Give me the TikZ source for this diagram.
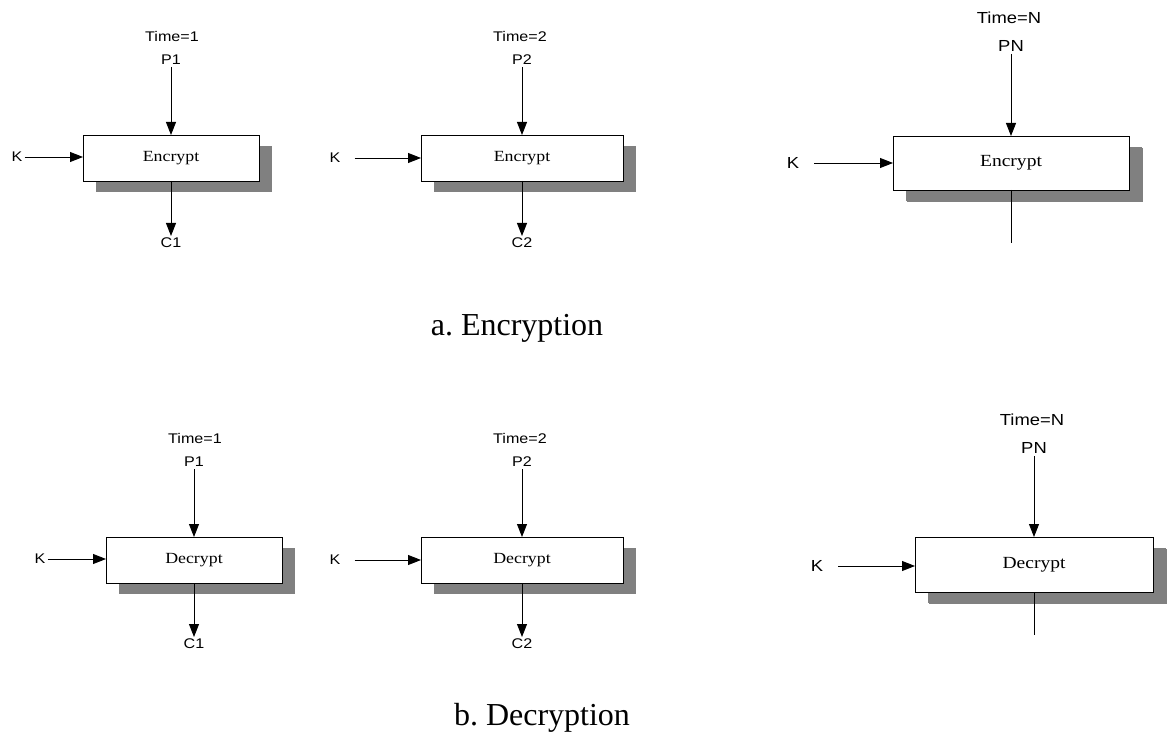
\documentclass[tikz,border=0pt]{standalone}
\usepackage{fontspec}
\setmainfont{Liberation Serif}
\setsansfont{Liberation Sans}
\usetikzlibrary{arrows.meta,shadows}
\definecolor{shadowgray}{HTML}{808080}
% slightly widened lettering for the small labels
\newcommand{\wide}[1]{\scalebox{1.15}[1]{#1}}
\tikzset{
  lbl/.style={font=\sffamily\fontsize{14}{16}\selectfont, inner sep=2pt},
  lblbig/.style={font=\sffamily\fontsize{16}{18}\selectfont, inner sep=2pt},
  cipherbox/.style={draw, fill=white, line width=0.9pt, inner sep=0pt, outer sep=0pt,
    font=\rmfamily\fontsize{15.5}{17}\selectfont,
    drop shadow={shadow xshift=13pt, shadow yshift=-11pt, fill=shadowgray, opacity=1}},
  cipherboxbig/.style={cipherbox, font=\rmfamily\fontsize{17}{19}\selectfont,
    drop shadow={shadow xshift=14pt, shadow yshift=-12pt, fill=shadowgray, opacity=1}},
  arr/.style={line width=0.9pt, -{Triangle[length=13pt,width=10pt]}},
  plain/.style={line width=0.9pt},
  caption/.style={font=\rmfamily\fontsize{32}{36}\selectfont, anchor=base, inner sep=0pt}
}
\begin{document}
\begin{tikzpicture}[x=1pt, y=-1pt]
\useasboundingbox (0,0) rectangle (1172,735);

% ---------------- a. Encryption ----------------
% stage 1
\node[cipherbox, minimum width=176pt, minimum height=46pt] (eb1) at (171,158) {\wide{Encrypt}};
\node[lbl] (et1) at (172,36) {\wide{Time=1}};
\node[lbl, anchor=south] (ep1) at (171,67) {\wide{P1}};
\node[lbl] (ek1) at (17,157) {\wide{K}};
\node[lbl, anchor=north] (ec1) at (171,236) {\wide{C1}};
\draw[arr] (ep1.south) -- (ep1.south |- eb1.north);
\draw[arr] (ek1.east) -- (ek1.east -| eb1.west);
\draw[arr] (eb1.south) -- (ec1.north);

% stage 2
\node[cipherbox, minimum width=202pt, minimum height=46pt] (eb2) at (522,158) {\wide{Encrypt}};
\node[lbl] (et2) at (520,36) {\wide{Time=2}};
\node[lbl, anchor=south] (ep2) at (522,67) {\wide{P2}};
\node[lbl] (ek2) at (335,158) {\wide{K}};
\node[lbl, anchor=north] (ec2) at (522,236) {\wide{C2}};
\draw[arr] (ep2.south) -- (ep2.south |- eb2.north);
\draw[arr, shorten <=12pt] (ek2.east) -- (ek2.east -| eb2.west);
\draw[arr] (eb2.south) -- (ec2.north);

% stage N
\node[cipherboxbig, minimum width=236pt, minimum height=54pt] (eb3) at (1011,163) {\wide{Encrypt}};
\node[lblbig] (et3) at (1009,18) {\wide{Time=N}};
\node[lblbig, anchor=south] (ep3) at (1011,54) {\wide{PN}};
\node[lblbig] (ek3) at (793,163) {\wide{K}};
\coordinate (ee3) at (1011,243);
\draw[arr] (ep3.south) -- (ep3.south |- eb3.north);
\draw[arr, shorten <=13pt] (ek3.east) -- (ek3.east -| eb3.west);
\draw[plain] (eb3.south) -- (ee3);

\node[caption] (capa) at (517,335) {a.\ Encryption};

% ---------------- b. Decryption ----------------
% stage 1
\node[cipherbox, minimum width=176pt, minimum height=46pt] (db1) at (194,560) {\wide{Decrypt}};
\node[lbl] (dt1) at (195,438) {\wide{Time=1}};
\node[lbl, anchor=south] (dp1) at (194,469) {\wide{P1}};
\node[lbl] (dk1) at (40,559) {\wide{K}};
\node[lbl, anchor=north] (dc1) at (194,637) {\wide{C1}};
\draw[arr] (dp1.south) -- (dp1.south |- db1.north);
\draw[arr] (dk1.east) -- (dk1.east -| db1.west);
\draw[arr] (db1.south) -- (dc1.north);

% stage 2
\node[cipherbox, minimum width=202pt, minimum height=46pt] (db2) at (522,560) {\wide{Decrypt}};
\node[lbl] (dt2) at (520,438) {\wide{Time=2}};
\node[lbl, anchor=south] (dp2) at (522,469) {\wide{P2}};
\node[lbl] (dk2) at (335,560) {\wide{K}};
\node[lbl, anchor=north] (dc2) at (522,637) {\wide{C2}};
\draw[arr] (dp2.south) -- (dp2.south |- db2.north);
\draw[arr, shorten <=12pt] (dk2.east) -- (dk2.east -| db2.west);
\draw[arr] (db2.south) -- (dc2.north);

% stage N
\node[cipherboxbig, minimum width=238pt, minimum height=55pt] (db3) at (1034,564.5) {\wide{Decrypt}};
\node[lblbig] (dt3) at (1032,420) {\wide{Time=N}};
\node[lblbig, anchor=south] (dp3) at (1034,456) {\wide{PN}};
\node[lblbig] (dk3) at (817,566) {\wide{K}};
\coordinate (de3) at (1034,635);
\draw[arr] (dp3.south) -- (dp3.south |- db3.north);
\draw[arr, shorten <=13pt] (dk3.east) -- (dk3.east -| db3.west);
\draw[plain] (db3.south) -- (de3);

\node[caption] (capb) at (542,725) {b.\ Decryption};
\end{tikzpicture}
\end{document}
